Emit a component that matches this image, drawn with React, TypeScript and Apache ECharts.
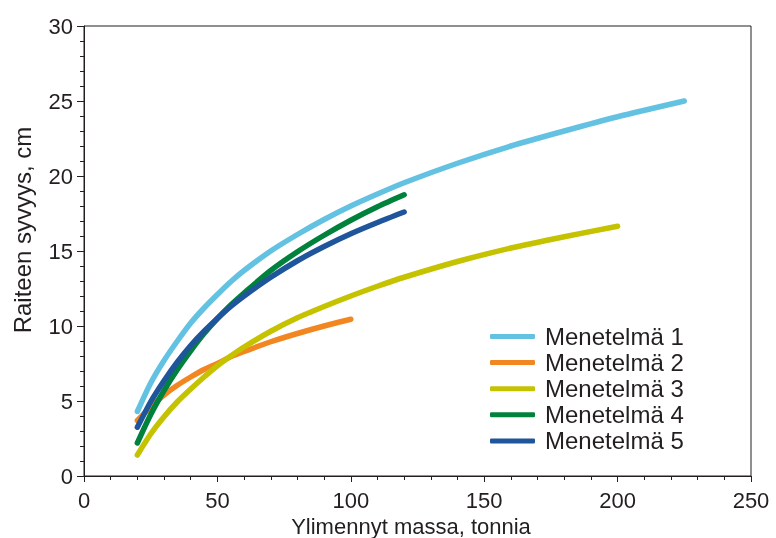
import React, { useEffect, useRef } from "react";
import * as echarts from "echarts";

const seriesNames = ["Menetelmä 1", "Menetelmä 2", "Menetelmä 3", "Menetelmä 4", "Menetelmä 5"];

const m1X = [20, 25, 30, 35, 40, 45, 50, 55, 60, 70, 80, 90, 100, 110, 120, 140, 160, 180, 200, 225];
const m1Y = [4.3, 6.2, 7.7, 9.0, 10.2, 11.2, 12.1, 12.95, 13.7, 15.0, 16.1, 17.1, 18.0, 18.8, 19.55, 20.85, 22.0, 23.0, 23.95, 25.0];

const m2X = [20, 25, 30, 35, 40, 45, 50, 55, 60, 70, 80, 90, 100];
const m2Y = [3.7, 4.6, 5.4, 6.05, 6.6, 7.1, 7.5, 7.95, 8.3, 8.95, 9.5, 10.0, 10.45];

const m3X = [20, 25, 30, 35, 40, 45, 50, 55, 60, 70, 80, 90, 100, 110, 120, 140, 160, 180, 200];
const m3Y = [1.4, 2.8, 3.95, 4.95, 5.8, 6.6, 7.35, 8.0, 8.6, 9.65, 10.55, 11.3, 12.0, 12.65, 13.25, 14.3, 15.2, 15.95, 16.65];

const m4X = [20, 25, 30, 35, 40, 45, 50, 55, 60, 70, 80, 90, 100, 110, 120];
const m4Y = [2.2, 4.1, 5.7, 7.1, 8.35, 9.5, 10.5, 11.4, 12.2, 13.7, 14.95, 16.05, 17.05, 17.95, 18.75];

const m5X = [20, 25, 30, 35, 40, 45, 50, 55, 60, 70, 80, 90, 100, 110, 120];
const m5Y = [3.25, 4.95, 6.35, 7.6, 8.7, 9.65, 10.5, 11.3, 12.0, 13.25, 14.35, 15.3, 16.15, 16.9, 17.6];

const colors = ["#63C2E2", "#F28721", "#C5C200", "#00823C", "#1E559B"];

const xTitle = "Ylimennyt massa, tonnia";
const yTitle = "Raiteen syvyys, cm";

const FONT = "Arial, 'Liberation Sans', Helvetica, sans-serif";
const TEXT = "#231F20";

export default function App() {
  const ref = useRef<HTMLDivElement>(null);
  useEffect(() => {
    if (!ref.current) return;
    const chart = echarts.init(ref.current, undefined, { renderer: "svg" });
    const xs = [m1X, m2X, m3X, m4X, m5X];
    const ys = [m1Y, m2Y, m3Y, m4Y, m5Y];
    const series = seriesNames.map((name, i) => ({
      name,
      type: "line",
      data: xs[i].map((x, j) => [x, ys[i][j]]),
      smooth: 0.25,
      showSymbol: false,
      symbol: "none",
      lineStyle: { width: 5.5, color: colors[i], cap: "round", join: "round" },
      itemStyle: { color: colors[i] },
    }));
    chart.setOption({
      animation: false,
      textStyle: { fontFamily: FONT },
      grid: {
        left: 84,
        right: 25,
        top: 26,
        bottom: 62,
        show: true,
        borderColor: "#231F20",
        borderWidth: 1,
        backgroundColor: "transparent",
      },
      legend: {
        orient: "vertical",
        left: 485,
        top: 319,
        icon: "roundRect",
        itemWidth: 45,
        itemHeight: 5,
        itemGap: 1.1,
        textStyle: { fontSize: 24, color: TEXT, fontFamily: FONT, lineHeight: 25, padding: [0, 0, 0, 5] },
        data: seriesNames,
      },
      xAxis: {
        type: "value",
        min: 0,
        max: 250,
        interval: 50,
        axisLine: { show: true, lineStyle: { color: "#231F20", width: 1 } },
        axisTick: { show: true, length: 6, lineStyle: { color: "#231F20" } },
        minorTick: { show: true, splitNumber: 5, length: 4, lineStyle: { color: "#231F20" } },
        splitLine: { show: false },
        axisLabel: { fontSize: 22, color: TEXT, margin: 13, fontFamily: FONT },
      },
      yAxis: {
        type: "value",
        min: 0,
        max: 30,
        interval: 5,
        axisLine: { show: true, lineStyle: { color: "#231F20", width: 1 } },
        axisTick: { show: true, length: 7, lineStyle: { color: "#231F20" } },
        minorTick: { show: true, splitNumber: 5, length: 4, lineStyle: { color: "#231F20" } },
        splitLine: { show: false },
        axisLabel: { fontSize: 22, color: TEXT, margin: 11, fontFamily: FONT },
      },
      graphic: [
        {
          type: "text",
          x: 411,
          y: 526,
          style: {
            text: xTitle,
            fontSize: 22,
            fontFamily: FONT,
            fill: TEXT,
            textAlign: "center",
            textVerticalAlign: "middle",
          },
        },
        {
          type: "text",
          x: 22,
          y: 230,
          rotation: Math.PI / 2,
          style: {
            text: yTitle,
            fontSize: 24,
            fontFamily: FONT,
            fill: TEXT,
            textAlign: "center",
            textVerticalAlign: "middle",
          },
        },
      ],
      series,
    });
    return () => chart.dispose();
  }, []);
  return <div ref={ref} style={{ position: "fixed", left: 0, top: 0, width: 776, height: 538 }} />;
}
